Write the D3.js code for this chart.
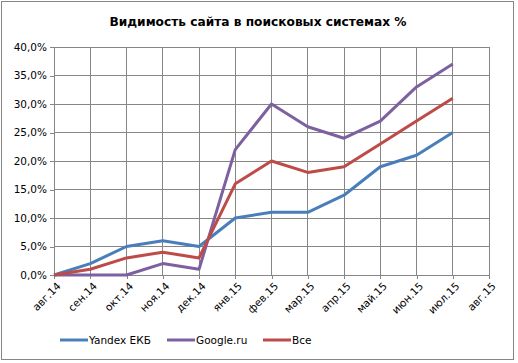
<!DOCTYPE html>
<html lang="ru">
<head>
  <meta charset="utf-8">
  <title>Видимость сайта</title>
  <script src="https://cdn.jsdelivr.net/npm/d3@7"></script>
  <style>
    body { margin: 0; background: #fff; }
    .grid line { stroke: #868686; stroke-width: 1; shape-rendering: crispEdges; }
    .axis path, .axis line { stroke: #868686; shape-rendering: crispEdges; }
    .axis text { font-family: "DejaVu Sans", sans-serif; font-size: 10.5px; fill: #000; }
    .legend text { font-family: "DejaVu Sans", sans-serif; font-size: 10.5px; }
  </style>
</head>
<body>
  <div id="box"></div>
  <script>
    const width = 518
    const height = 363

    // данные
    const months = ['авг.14', 'сен.14', 'окт.14', 'ноя.14', 'дек.14', 'янв.15', 'фев.15',
      'мар.15', 'апр.15', 'май.15', 'июн.15', 'июл.15', 'авг.15']
    const yandex = [0, 2, 5, 6, 5, 10, 11, 11, 14, 19, 21, 25]
    const google = [0, 0, 0, 2, 1, 22, 30, 26, 24, 27, 33, 37]
    const all = [0, 1, 3, 4, 3, 16, 20, 18, 19, 23, 27, 31]
    const yTicks = [0, 5, 10, 15, 20, 25, 30, 35, 40]

    const series = [
      { name: 'Yandex ЕКБ', values: yandex, color: '#4a7ebb' },
      { name: 'Google.ru', values: google, color: '#7d60a0' },
      { name: 'Все', values: all, color: '#be4b48' }
    ]

    const plot = { left: 54, right: 489, top: 47, bottom: 275 }

    const xScale = d3.scalePoint()
      .domain(months)
      .range([plot.left, plot.right])

    const yScale = d3.scaleLinear()
      .domain([0, 40])
      .range([plot.bottom, plot.top])

    const svg = d3.select('#box')
      .append('svg')
      .attr('width', width)
      .attr('height', height)

    // рамка
    svg.append('rect')
      .attr('x', 1.5).attr('y', 1.5)
      .attr('width', 512).attr('height', 358)
      .attr('fill', '#fff')
      .attr('stroke', '#868686')

    // заголовок
    svg.append('text')
      .attr('x', 258).attr('y', 26)
      .attr('text-anchor', 'middle')
      .style('font-family', '"DejaVu Sans", sans-serif')
      .style('font-weight', 'bold')
      .style('font-size', '12.2px')
      .text('Видимость сайта в поисковых системах %')

    // сетка
    const grid = svg.append('g').attr('class', 'grid')
    grid.selectAll('.h').data(yTicks).enter().append('line')
      .attr('x1', plot.left).attr('x2', plot.right)
      .attr('y1', d => yScale(d)).attr('y2', d => yScale(d))
    grid.selectAll('.v').data(months).enter().append('line')
      .attr('x1', d => xScale(d)).attr('x2', d => xScale(d))
      .attr('y1', plot.top).attr('y2', plot.bottom)

    // оси
    const fmt = d => d.toFixed(1).replace('.', ',') + '%'
    svg.append('g')
      .attr('class', 'axis')
      .attr('transform', `translate(${plot.left},0)`)
      .call(d3.axisLeft(yScale).tickValues(yTicks).tickFormat(fmt).tickSize(4).tickPadding(3))

    const xAxis = svg.append('g')
      .attr('class', 'axis')
      .attr('transform', `translate(0,${plot.bottom})`)
      .call(d3.axisBottom(xScale).tickSize(4).tickSizeOuter(0))
    xAxis.selectAll('text')
      .attr('text-anchor', 'end')
      .attr('dx', '0.15em')
      .attr('dy', '0.8em')
      .attr('transform', function (d) {
        return `rotate(-45,0,${this.getAttribute('y')})`
      })

    // линии
    const line = d3.line()
      .x((d, i) => xScale(months[i]))
      .y(d => yScale(d))

    svg.selectAll('.series')
      .data(series)
      .enter()
      .append('path')
      .attr('fill', 'none')
      .attr('stroke', d => d.color)
      .attr('stroke-width', 3)
      .attr('stroke-linejoin', 'round')
      .attr('d', d => line(d.values))

    // легенда
    const legendX = [60, 167, 263]
    const legend = svg.selectAll('.legend')
      .data(series)
      .enter()
      .append('g')
      .attr('class', 'legend')
      .attr('transform', (d, i) => `translate(${legendX[i]},340)`)
    legend.append('line')
      .attr('x1', 0).attr('x2', 28)
      .attr('stroke', d => d.color)
      .attr('stroke-width', 3)
    legend.append('text')
      .attr('x', 29).attr('y', 4)
      .text(d => d.name)
  </script>
</body>
</html>
